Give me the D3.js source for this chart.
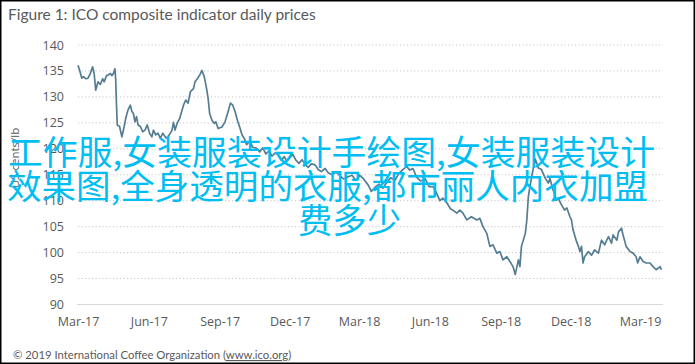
<!DOCTYPE html>
<html>
<head>
<meta charset="utf-8">
<script src="https://cdn.jsdelivr.net/npm/d3@7"></script>
<style>
  html, body { margin: 0; padding: 0; background: #fff; }
  svg { display: block; }
</style>
</head>
<body>
<svg id="chart" width="695" height="364"></svg>
<script>
// ---- data ----
const titleText = "Figure 1: ICO composite indicator daily prices";
const yAxisLabel = "US cents/lb";
const footerText = "\u00A9 2019 International Coffee Organization (";
const footerLink = "www.ico.org";
const overlayLines = [
  "工作服,女装服装设计手绘图,女装服装设计",
  "效果图,全身透明的衣服,都市丽人内衣加盟",
  "费多少"
];
const yTicks = [90, 95, 100, 105, 110, 115, 120, 125, 130, 135, 140];
const xTickLabels = ["Mar-17","Jun-17","Sep-17","Dec-17","Mar-18","Jun-18","Sep-18","Dec-18","Mar-19"];
const xTickDates = ["2017-03-01","2017-06-01","2017-09-01","2017-12-01","2018-03-01","2018-06-01","2018-09-01","2018-12-01","2019-03-01"];
const startDate = "2017-03-01";
// day offsets from startDate
const dayOffsets = [0,2,5,7,10,13,16,19,21,23,26,29,32,34,37,39,42,44,46,48,49,50,51,54,57,60,62,65,68,70,72,74,76,78,81,84,87,90,93,96,98,101,104,107,110,115,119,122,124,126,129,132,137,140,143,146,150,152,155,158,161,164,167,169,171,174,177,179,182,187,191,195,198,201,204,207,210,213,216,219,223,227,232,236,240,244,248,252,256,260,264,268,271,275,279,283,287,291,295,299,303,308,312,316,321,325,330,335,340,345,351,356,361,366,371,377,381,386,391,396,401,406,412,417,422,427,431,435,440,445,451,456,461,466,470,474,479,484,487,492,496,500,505,511,518,522,526,531,535,539,544,548,552,557,561,565,568,572,574,576,581,583,585,587,591,594,596,598,602,607,611,613,617,619,621,624,628,632,635,639,641,643,647,650,652,654,656,658,663,667,671,676,680,684,689,693,695,700,702,706,708,712,717,721,725,727,730,734,738,743,747,751,756,758];
const prices = [136.1,135.2,133.6,133.9,133.5,133.6,134.5,135.8,134.5,131.3,132.9,132.4,133.5,132.9,134.1,134.2,134.5,134.1,134.5,135.4,133.3,128.4,124.6,124.3,122.3,124.3,125.9,127.5,128.4,127.2,126.8,125.2,126.2,124.6,124.3,123.3,123.6,124.6,123.0,122.3,123.6,122.7,123.0,122.0,123.0,122.0,122.8,123.5,125.1,123.6,125.0,125.8,128.4,129.4,128.8,131.0,131.6,132.9,133.5,134.2,135.1,133.9,131.6,129.7,126.8,125.5,124.9,125.2,123.9,124.2,125.2,127.2,128.8,128.4,127.2,125.5,124.2,122.7,122.0,120.8,121.5,120.3,120.1,119.4,120.2,119.0,119.6,118.6,119.2,118.8,117.8,118.5,117.6,118.3,118.9,117.8,117.2,117.9,117.0,116.4,117.1,116.9,116.0,115.6,116.2,115.4,115.0,115.6,114.8,114.2,114.6,114.9,113.9,114.9,114.2,113.0,111.8,112.6,113.2,112.4,113.5,114.4,114.0,115.3,116.0,116.6,115.9,116.2,114.5,113.8,114.2,112.7,112.7,111.4,110.0,110.5,109.6,108.4,108.2,107.6,108.2,107.6,106.3,106.9,106.3,106.6,105.0,103.7,101.2,101.5,99.9,100.2,98.6,99.2,98.3,97.3,95.8,98.6,97.3,101.2,103.7,106.3,110.8,112.7,116.0,118.0,117.2,116.3,116.0,114.3,113.4,114.3,112.1,111.4,110.1,110.4,109.2,108.2,108.6,106.9,106.3,104.4,102.4,101.2,100.2,101.2,98.0,99.2,100.2,99.5,100.5,99.9,102.4,101.5,103.1,101.8,103.4,102.4,104.0,104.7,103.4,101.2,100.2,99.9,99.2,98.0,99.2,98.3,98.0,98.0,97.3,96.7,97.3,96.7];

// ---- chart ----
const svg = d3.select("#chart");
const parse = d3.utcParse("%Y-%m-%d");
const t0 = parse(startDate);
const series = dayOffsets.map((d, i) => ({ date: d3.utcDay.offset(t0, d), v: prices[i] }));

const x = d3.scaleUtc()
  .domain([parse("2017-03-01"), parse("2019-03-01")])
  .range([78, 640]);
const y = d3.scaleLinear().domain([90, 140]).range([304.5, 45]);
const plotLeft = 78, plotRight = 663;

svg.append("rect").attr("width", 695).attr("height", 364).attr("fill", "#fff");

// gridlines
svg.append("g").selectAll("line")
  .data(yTicks.filter(v => v !== 90))
  .join("line")
  .attr("x1", plotLeft).attr("x2", plotRight)
  .attr("y1", d => y(d)).attr("y2", d => y(d))
  .attr("stroke", "#c8c8c8").attr("stroke-width", 1)
  .attr("stroke-dasharray", "1.2,2.3");

// x axis baseline
svg.append("line")
  .attr("x1", plotLeft - 1).attr("x2", plotRight)
  .attr("y1", y(90)).attr("y2", y(90))
  .attr("stroke", "#d9d9d9").attr("stroke-width", 1);

// y tick labels
const yAxis = d3.axisLeft(y).tickValues(yTicks).tickSize(0).tickPadding(0);
const gy = svg.append("g").attr("transform", "translate(64,0)").call(yAxis);
gy.select(".domain").remove();
gy.selectAll("text")
  .attr("font-family", "'Open Sans', sans-serif")
  .attr("font-size", 12.5)
  .attr("fill", "#595959");

// x tick labels
const xAxis = d3.axisBottom(x)
  .tickValues(xTickDates.map(parse))
  .tickFormat((d, i) => xTickLabels[i])
  .tickSize(0).tickPadding(0);
const gx = svg.append("g").attr("transform", "translate(0,317)").call(xAxis);
gx.select(".domain").remove();
gx.selectAll("text")
  .attr("font-family", "'Open Sans', sans-serif")
  .attr("font-size", 12.5)
  .attr("fill", "#595959");

// price line
const line = d3.line().x(d => x(d.date)).y(d => y(d.v)).curve(d3.curveLinear);
svg.append("path")
  .datum(series)
  .attr("d", line)
  .attr("fill", "none")
  .attr("stroke", "#557d92")
  .attr("stroke-width", 1.7)
  .attr("stroke-linejoin", "round");

// y axis label
svg.append("text")
  .attr("transform", "translate(19,158) rotate(-90)")
  .attr("text-anchor", "middle")
  .attr("font-family", "'Open Sans', sans-serif")
  .attr("font-size", 11.5)
  .attr("fill", "#595959")
  .text(yAxisLabel);

// title
svg.append("text")
  .attr("x", 8).attr("y", 20)
  .attr("font-family", "Lato, 'Open Sans', sans-serif")
  .attr("font-size", 15.5)
  .attr("fill", "#595959")
  .text(titleText);

// footer
const ft = svg.append("text")
  .attr("x", 13).attr("y", 359)
  .attr("font-family", "Lato, 'Open Sans', sans-serif")
  .attr("font-size", 11.3)
  .attr("fill", "#595959");
ft.append("tspan").text(footerText);
ft.append("tspan").attr("text-decoration", "underline").text(footerLink);
ft.append("tspan").text(")");

// overlay text
const overlayPos = [
  { x: 8, y: 165, len: 647 },
  { x: 7, y: 199, len: 641 },
  { x: 298, y: 233, len: 103 }
];
svg.append("g").selectAll("text")
  .data(overlayLines)
  .join("text")
  .attr("x", (d, i) => overlayPos[i].x)
  .attr("y", (d, i) => overlayPos[i].y)
  .attr("textLength", (d, i) => overlayPos[i].len)
  .attr("lengthAdjust", "spacingAndGlyphs")
  .attr("font-family", "'Noto Sans CJK SC', sans-serif")
  .attr("font-size", 34)
  .attr("fill", "#00bdf2")
  .text(d => d);

// frame
svg.append("rect")
  .attr("x", 0.75).attr("y", 0.75).attr("width", 693.5).attr("height", 362.5)
  .attr("fill", "none").attr("stroke", "#000").attr("stroke-width", 1.5);
</script>
</body>
</html>
